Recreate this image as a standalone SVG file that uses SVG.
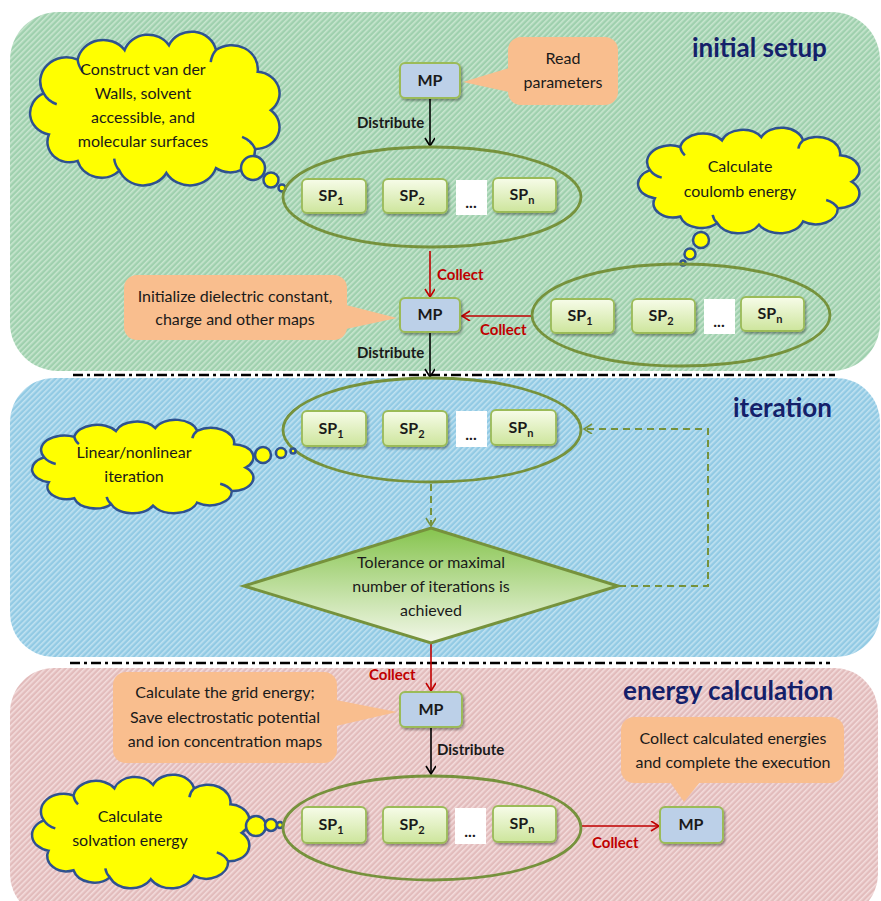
<svg xmlns="http://www.w3.org/2000/svg" width="881" height="901" viewBox="0 0 881 901">
<defs>
<pattern id="hG" width="4" height="4" patternUnits="userSpaceOnUse" patternTransform="rotate(45)"><rect width="4" height="4" fill="#9fd0ae"/><rect width="1.6" height="4" fill="#c8e6cf"/></pattern>
<pattern id="hB" width="4" height="4" patternUnits="userSpaceOnUse" patternTransform="rotate(45)"><rect width="4" height="4" fill="#92cae4"/><rect width="1.6" height="4" fill="#c0e2f1"/></pattern>
<pattern id="hP" width="4" height="4" patternUnits="userSpaceOnUse" patternTransform="rotate(45)"><rect width="4" height="4" fill="#e2bcbc"/><rect width="1.6" height="4" fill="#f3dcdc"/></pattern>
<linearGradient id="spG" x1="0" y1="0" x2="0" y2="1"><stop offset="0" stop-color="#f7fce9"/><stop offset="1" stop-color="#cde59c"/></linearGradient>
<linearGradient id="dG" x1="0" y1="0" x2="0" y2="1"><stop offset="0" stop-color="#86c44e"/><stop offset="1" stop-color="#f2f7e8"/></linearGradient>
<filter id="sh" x="-20%" y="-20%" width="140%" height="150%"><feDropShadow dx="1.5" dy="2" stdDeviation="1.2" flood-color="#000" flood-opacity="0.35"/></filter>
<marker id="aK" markerWidth="12" markerHeight="12" refX="9" refY="5" orient="auto" markerUnits="userSpaceOnUse"><path d="M1,0 L9,5 L1,10" fill="none" stroke="#000" stroke-width="1.6"/></marker>
<marker id="aR" markerWidth="12" markerHeight="12" refX="9" refY="5" orient="auto" markerUnits="userSpaceOnUse"><path d="M1,0 L9,5 L1,10" fill="none" stroke="#c00000" stroke-width="1.6"/></marker>
<marker id="aG" markerWidth="12" markerHeight="12" refX="9" refY="5" orient="auto" markerUnits="userSpaceOnUse"><path d="M1,0 L9,5 L1,10" fill="none" stroke="#76923c" stroke-width="1.6"/></marker>
<path id="cloud" d="M18,82 A18,18 0 0 1 14,48 A20,20 0 0 1 40,20 A20,20 0 0 1 76,12 A19,19 0 0 1 110,8 A19,19 0 0 1 146,12 A20,20 0 0 1 178,30 A18,18 0 0 1 188,62 A18,18 0 0 1 176,94 A19,19 0 0 1 146,110 A21,21 0 0 1 108,114 A20,20 0 0 1 72,112 A19,19 0 0 1 40,104 A17,17 0 0 1 18,82 Z M14,48 A18,18 0 0 0 24,57 M176,94 A18,18 0 0 0 166,84 M72,112 A20,20 0 0 1 68,102 M146,12 A19,19 0 0 0 142,22 M40,20 A20,20 0 0 0 44,30" fill="#ffff00" stroke="#2f528f" stroke-width="2.5" vector-effect="non-scaling-stroke"/>
</defs>
<style>
.t{font-family:Lato,"Open Sans",sans-serif;font-size:16px;fill:#1a1a1a;text-anchor:middle}
.b{font-weight:bold}
.ttl{font-family:Lato,"Open Sans",sans-serif;font-size:26px;font-weight:bold;fill:#14206a}
.lbK{font-family:Lato,sans-serif;font-size:15px;font-weight:bold;fill:#1a1a1a}
.lbR{font-family:Lato,sans-serif;font-size:15px;font-weight:bold;fill:#c00000}
.mp{fill:#bcd0e8;stroke:#9bbb59;stroke-width:2}
.sp{fill:url(#spG);stroke:#9bbb59;stroke-width:1.8}
.ell{fill:none;stroke:#76923c;stroke-width:2.8}
.co{fill:#f9be8e}
.bub{fill:#ffff00;stroke:#2f528f;stroke-width:2.5}
.sep{stroke:#000;stroke-width:2.5;stroke-dasharray:10,4,3,4;fill:none}
</style>

<g id="panels">
<rect x="10" y="12" width="870" height="359" rx="48" fill="url(#hG)"/>
<rect x="10" y="378" width="870" height="279" rx="44" fill="url(#hB)"/>
<rect x="10" y="668" width="868" height="250" rx="44" fill="url(#hP)"/>
<path class="sep" d="M73,375 H835"/>
<path class="sep" d="M70,663 H830"/>
</g>

<g id="titles">
<text class="ttl" x="692" y="57">initial setup</text>
<text class="ttl" x="733" y="417">iteration</text>
<text class="ttl" x="623" y="700">energy calculation</text>
</g>

<g id="connectors">
<line x1="430" y1="99" x2="430" y2="146" stroke="#000" stroke-width="1.6" marker-end="url(#aK)"/>
<line x1="430" y1="251" x2="430" y2="297" stroke="#c00000" stroke-width="1.6" marker-end="url(#aR)"/>
<line x1="532" y1="316" x2="462" y2="316" stroke="#c00000" stroke-width="1.6" marker-end="url(#aR)"/>
<line x1="430" y1="333" x2="430" y2="377" stroke="#000" stroke-width="1.6" marker-end="url(#aK)"/>
<line x1="431" y1="484" x2="431" y2="526" stroke="#76923c" stroke-width="2" stroke-dasharray="7,5" marker-end="url(#aG)"/>
<polyline points="619,586 708,586 708,429 584,429" fill="none" stroke="#76923c" stroke-width="2" stroke-dasharray="7,5" marker-end="url(#aG)"/>
<line x1="431" y1="644" x2="431" y2="691" stroke="#c00000" stroke-width="1.6" marker-end="url(#aR)"/>
<line x1="431" y1="728" x2="431" y2="774" stroke="#000" stroke-width="1.6" marker-end="url(#aK)"/>
<line x1="582" y1="826" x2="659" y2="826" stroke="#c00000" stroke-width="1.6" marker-end="url(#aR)"/>
<text class="lbK" x="357" y="128">Distribute</text>
<text class="lbR" x="437" y="280">Collect</text>
<text class="lbR" x="480" y="335">Collect</text>
<text class="lbK" x="357" y="358">Distribute</text>
<text class="lbR" x="369" y="680">Collect</text>
<text class="lbK" x="437" y="755">Distribute</text>
<text class="lbR" x="592" y="848">Collect</text>
</g>

<!-- initial setup -->
<g id="mp1"><rect class="mp" x="400" y="63" width="60" height="35" rx="5" filter="url(#sh)"/><text class="t b" x="430" y="86">MP</text></g>
<g id="read-params"><rect class="co" x="508" y="37" width="110" height="68" rx="13"/><polygon class="co" points="509,68 509,92 463,82"/><text class="t" x="563" y="64">Read</text><text class="t" x="563" y="88">parameters</text></g>
<g id="cloud-surfaces"><use href="#cloud" transform="translate(30,32) scale(1.305,1.205) translate(-3.5,3)"/><circle class="bub" cx="253" cy="168" r="12"/><circle class="bub" cx="271" cy="180" r="7.5"/><circle class="bub" cx="282" cy="188" r="3.5"/>
<text class="t" x="143" y="75">Construct van der</text><text class="t" x="143" y="99">Walls, solvent</text><text class="t" x="143" y="123">accessible, and</text><text class="t" x="143" y="147">molecular surfaces</text></g>
<g id="group1"><ellipse class="ell" cx="432" cy="197" rx="149" ry="50"/>
<rect class="sp" x="302" y="179" width="64" height="34" rx="5" filter="url(#sh)"/><text class="t b" x="331" y="201">SP<tspan font-size="11" dy="4">1</tspan></text>
<rect class="sp" x="383" y="179" width="64" height="34" rx="5" filter="url(#sh)"/><text class="t b" x="412" y="201">SP<tspan font-size="11" dy="4">2</tspan></text>
<rect x="456" y="180" width="31" height="35" fill="#fff"/><text class="t b" x="471" y="208">...</text>
<rect class="sp" x="493" y="178" width="63" height="34" rx="5" filter="url(#sh)"/><text class="t b" x="522" y="200">SP<tspan font-size="11" dy="4">n</tspan></text></g>
<g id="mp2"><rect class="mp" x="400" y="298" width="60" height="34" rx="5" filter="url(#sh)"/><text class="t b" x="430" y="320">MP</text></g>
<g id="init-maps"><rect class="co" x="124" y="275" width="223" height="65" rx="13"/><polygon class="co" points="346,305 346,329 397,318"/><text class="t" x="235" y="302">Initialize dielectric constant,</text><text class="t" x="235" y="325">charge and other maps</text></g>
<g id="cloud-coulomb"><use href="#cloud" transform="translate(638,128) scale(1.158,0.827) translate(-3.5,3)"/><circle class="bub" cx="701" cy="240" r="8"/><circle class="bub" cx="690" cy="254" r="5.5"/><circle class="bub" cx="683" cy="263" r="2.5"/>
<text class="t" x="740" y="172">Calculate</text><text class="t" x="740" y="197">coulomb energy</text></g>
<g id="group2"><ellipse class="ell" cx="681" cy="315" rx="149" ry="51"/>
<rect class="sp" x="551" y="299" width="63" height="34" rx="5" filter="url(#sh)"/><text class="t b" x="580" y="321">SP<tspan font-size="11" dy="4">1</tspan></text>
<rect class="sp" x="632" y="299" width="63" height="34" rx="5" filter="url(#sh)"/><text class="t b" x="661" y="321">SP<tspan font-size="11" dy="4">2</tspan></text>
<rect x="704" y="299" width="31" height="35" fill="#fff"/><text class="t b" x="719" y="327">...</text>
<rect class="sp" x="741" y="297" width="63" height="34" rx="5" filter="url(#sh)"/><text class="t b" x="770" y="319">SP<tspan font-size="11" dy="4">n</tspan></text></g>

<!-- iteration -->
<g id="group3"><ellipse class="ell" cx="432" cy="430" rx="149" ry="52"/>
<rect class="sp" x="302" y="411" width="64" height="35" rx="5" filter="url(#sh)"/><text class="t b" x="331" y="434">SP<tspan font-size="11" dy="4">1</tspan></text>
<rect class="sp" x="383" y="411" width="64" height="35" rx="5" filter="url(#sh)"/><text class="t b" x="412" y="434">SP<tspan font-size="11" dy="4">2</tspan></text>
<rect x="456" y="411" width="31" height="36" fill="#fff"/><text class="t b" x="471" y="440">...</text>
<rect class="sp" x="491" y="410" width="65" height="35" rx="5" filter="url(#sh)"/><text class="t b" x="521" y="433">SP<tspan font-size="11" dy="4">n</tspan></text></g>
<g id="cloud-iteration"><use href="#cloud" transform="translate(32,420) scale(1.158,0.732) translate(-3.5,3)"/><circle class="bub" cx="263" cy="455" r="8"/><circle class="bub" cx="281" cy="453" r="5"/><circle class="bub" cx="293" cy="451" r="2.5"/>
<text class="t" x="134" y="458">Linear/nonlinear</text><text class="t" x="134" y="482">iteration</text></g>
<g id="decision"><polygon points="431,528 618,586 431,643 244,586" fill="url(#dG)" stroke="#76923c" stroke-width="3"/>
<text class="t" x="431" y="568">Tolerance or maximal</text><text class="t" x="431" y="592">number of iterations is</text><text class="t" x="431" y="616">achieved</text></g>

<!-- energy calculation -->
<g id="mp3"><rect class="mp" x="400" y="692" width="62" height="35" rx="5" filter="url(#sh)"/><text class="t b" x="431" y="715">MP</text></g>
<g id="grid-energy"><rect class="co" x="113" y="672" width="224" height="91" rx="13"/><polygon class="co" points="336,700 336,726 397,712"/><text class="t" x="225" y="698">Calculate the grid energy;</text><text class="t" x="225" y="723">Save electrostatic potential</text><text class="t" x="225" y="747">and ion concentration maps</text></g>
<g id="cloud-solvation"><use href="#cloud" transform="translate(32,775) scale(1.137,0.89) translate(-3.5,3)"/><circle class="bub" cx="256" cy="826" r="10"/><circle class="bub" cx="271" cy="825" r="6"/><circle class="bub" cx="280" cy="825" r="3"/>
<text class="t" x="130" y="822">Calculate</text><text class="t" x="130" y="846">solvation energy</text></g>
<g id="group4"><ellipse class="ell" cx="432" cy="828" rx="149" ry="52"/>
<rect class="sp" x="302" y="807" width="64" height="36" rx="5" filter="url(#sh)"/><text class="t b" x="331" y="830">SP<tspan font-size="11" dy="4">1</tspan></text>
<rect class="sp" x="383" y="807" width="64" height="36" rx="5" filter="url(#sh)"/><text class="t b" x="412" y="830">SP<tspan font-size="11" dy="4">2</tspan></text>
<rect x="455" y="808" width="31" height="36" fill="#fff"/><text class="t b" x="470" y="837">...</text>
<rect class="sp" x="493" y="806" width="63" height="36" rx="5" filter="url(#sh)"/><text class="t b" x="522" y="829">SP<tspan font-size="11" dy="4">n</tspan></text></g>
<g id="mp4"><rect class="mp" x="660" y="807" width="63" height="36" rx="5" filter="url(#sh)"/><text class="t b" x="691" y="830">MP</text></g>
<g id="collect-energies"><rect class="co" x="621" y="717" width="223" height="66" rx="13"/><polygon class="co" points="670,782 700,782 684,802"/><text class="t" x="733" y="744">Collect calculated energies</text><text class="t" x="733" y="768">and complete the execution</text></g>
</svg>
